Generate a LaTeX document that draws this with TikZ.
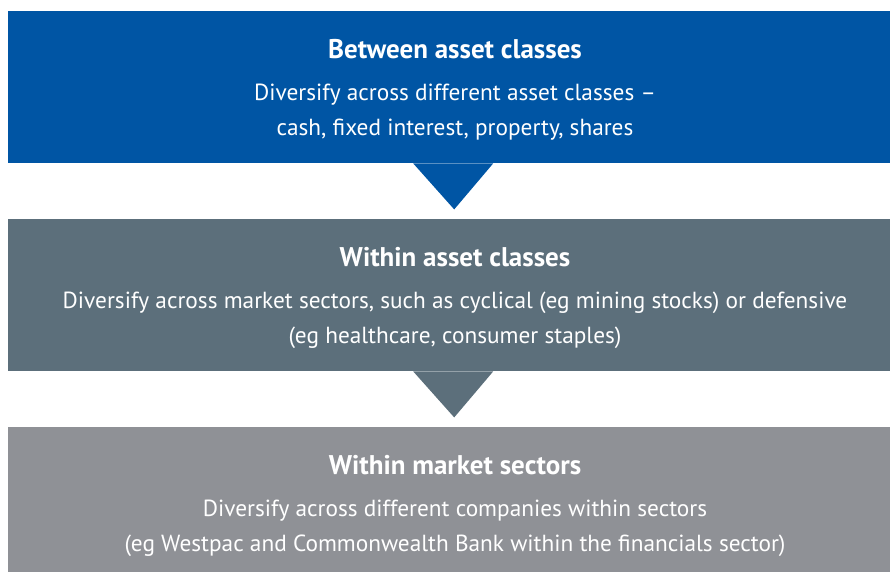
\documentclass[tikz,border=0pt]{standalone}
\usepackage{fontspec}
\setmainfont{PT Sans}
\usepackage{tikz}
\definecolor{assetblue}{HTML}{0055A4}
\definecolor{slate}{HTML}{5C6F7B}
\definecolor{midgray}{HTML}{8F9196}
\tikzset{
  band/.style={inner sep=0pt, minimum width=892pt, minimum height=152pt, anchor=north west},
  head/.style={text=white, anchor=base, font=\fontsize{27}{30}\selectfont\bfseries},
  body/.style={text=white, anchor=base, align=center, font=\fontsize{23.3}{35}\selectfont}
}

\begin{document}
\begin{tikzpicture}[x=1pt, y=-1pt]
  \clip (0, 0) rectangle (890, 571);
  \fill[white] (0, 0) rectangle (890, 571);
  \node[band, fill=assetblue] (BA) at (8, 11) {};
  \node[band, fill=slate] (WA) at (8, 219) {};
  \node[band, fill=midgray] (WM) at (8, 427) {};
  % pointers between the bands
  \fill[assetblue] (BA.south) ++(-41, 0) -- ++(80, 0) -- ++(-39, 46) -- cycle;
  \fill[slate] (WA.south) ++(-41, 0) -- ++(80, 0) -- ++(-39, 46) -- cycle;
  \node[head] (BAt) at (455, 58) {Between asset classes};
  \node[body] (BAd) at (455, 135) {Diversify across different asset classes --\\cash, fixed interest, property, shares};
  \node[head] (WAt) at (455, 266) {Within asset classes};
  \node[body] (WAd) at (455, 343) {Diversify across market sectors, such as cyclical (eg mining stocks) or defensive\\(eg healthcare, consumer staples)};
  \node[head] (WMt) at (455, 474) {Within market sectors};
  \node[body] (WMd) at (455, 551) {Diversify across different companies within sectors\\(eg Westpac and Commonwealth Bank within the financials sector)};
\end{tikzpicture}
\end{document}
